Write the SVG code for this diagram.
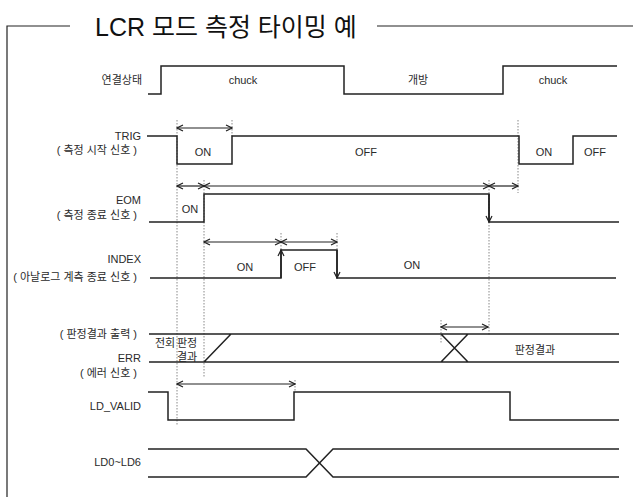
<svg xmlns="http://www.w3.org/2000/svg" width="633" height="497" viewBox="0 0 633 497">
<style>
text{font-family:"Liberation Sans","Noto Sans CJK KR",sans-serif;fill:#2a2a2a;font-size:11px}
.lbl{text-anchor:end}
.mid{text-anchor:middle}
.title{font-size:25px;fill:#111}
.sig{fill:none;stroke:#222;stroke-width:1.5}
.frame{fill:none;stroke:#222;stroke-width:1.2}
.dot{fill:none;stroke:#888;stroke-width:1;stroke-dasharray:1.5,1.5}
.arr{fill:none;stroke:#222;stroke-width:1.2;marker-start:url(#ah);marker-end:url(#ah)}
</style>
<defs>
<marker id="ah" viewBox="0 0 8 8" refX="7" refY="4" markerWidth="8" markerHeight="8" markerUnits="userSpaceOnUse" orient="auto-start-reverse">
<path d="M1,1 L7,4 L1,7" fill="none" stroke="#222" stroke-width="1.2"/>
</marker>
</defs>
<g id="frame">
<path class="frame" d="M7,497 V26 H70"/>
<path class="frame" d="M377,26 H633"/>
<text class="title" x="95" y="36">LCR 모드 측정 타이밍 예</text>
</g>
<g id="guides">
<path class="dot" d="M177,120 V425"/>
<path class="dot" d="M232,120 V137"/>
<path class="dot" d="M204,180 V377"/>
<path class="dot" d="M281,233 V250"/>
<path class="dot" d="M337,233 V250"/>
<path class="dot" d="M489,180 V335"/>
<path class="dot" d="M518,120 V193"/>
<path class="dot" d="M441,320 V343"/>
<path class="dot" d="M295,380 V392"/>
</g>
<g id="connection-state">
<text class="lbl" x="142" y="84">연결상태</text>
<path class="sig" d="M148,94 H161 V66 H344 V94 H503 V66 H617"/>
<text class="mid" x="243" y="84">chuck</text>
<text class="mid" x="418" y="84">개방</text>
<text class="mid" x="553" y="84">chuck</text>
</g>
<g id="trig">
<text class="lbl" x="141" y="140">TRIG</text>
<text class="lbl" x="137" y="154">( 측정 시작 신호 )</text>
<path class="sig" d="M147,136 H177 V164 H232 V136 H519 V164 H573 V136 H617"/>
<text class="mid" x="203" y="156">ON</text>
<text class="mid" x="366" y="156">OFF</text>
<text class="mid" x="544" y="156">ON</text>
<text class="mid" x="595" y="156">OFF</text>
</g>
<g id="eom">
<text class="lbl" x="141" y="204">EOM</text>
<text class="lbl" x="137" y="219">( 측정 종료 신호 )</text>
<path class="sig" d="M149,222 H204 V194 H489 V222 H619"/>
<text class="mid" x="190" y="213">ON</text>
</g>
<g id="index">
<text class="lbl" x="141" y="263">INDEX</text>
<text class="lbl" x="137" y="281">( 아날로그 계측 종료 신호 )</text>
<path class="sig" d="M150,278 H281 V250 H337 V278 H616"/>
<text class="mid" x="245" y="271">ON</text>
<text class="mid" x="305" y="271">OFF</text>
<text class="mid" x="412" y="269">ON</text>
</g>
<g id="judgement">
<text class="lbl" x="137" y="338">( 판정결과 출력 )</text>
<text class="lbl" x="141" y="362">ERR</text>
<text class="lbl" x="137" y="377">( 에러 신호 )</text>
<path class="sig" d="M149,334 H619 M149,362 H619 M204,362 L231,334 M441,334 L468,362 M441,362 L468,334"/>
<text class="mid" x="165" y="347">전회</text>
<text class="mid" x="187" y="347">판정</text>
<text class="mid" x="187" y="361">결과</text>
<text class="mid" x="535" y="354">판정결과</text>
</g>
<g id="ld-valid">
<text class="lbl" x="141" y="410">LD_VALID</text>
<path class="sig" d="M148,392 H168 V420 H294 V392 H510 V420 H619"/>
</g>
<g id="ld0-ld6">
<text class="lbl" x="141" y="466">LD0~LD6</text>
<path class="sig" d="M148,449 H306 L333,477 H619 M148,477 H306 L333,449 H619"/>
</g>
<g id="connectors">
<path class="arr" d="M177,128 H232"/>
<path class="arr" d="M177,186 H204"/>
<path class="arr" d="M204,186 H489"/>
<path class="arr" d="M489,186 H518"/>
<path class="arr" d="M204,242 H281"/>
<path class="arr" d="M281,242 H337"/>
<path class="arr" d="M441,327 H488"/>
<path class="arr" d="M177,384 H295"/>
<path class="sig" d="M281,278 V250" marker-end="url(#ah)"/>
<path class="sig" d="M337,250 V278" marker-end="url(#ah)"/>
<path class="sig" d="M489,194 V222" marker-end="url(#ah)"/>
</g>
</svg>
